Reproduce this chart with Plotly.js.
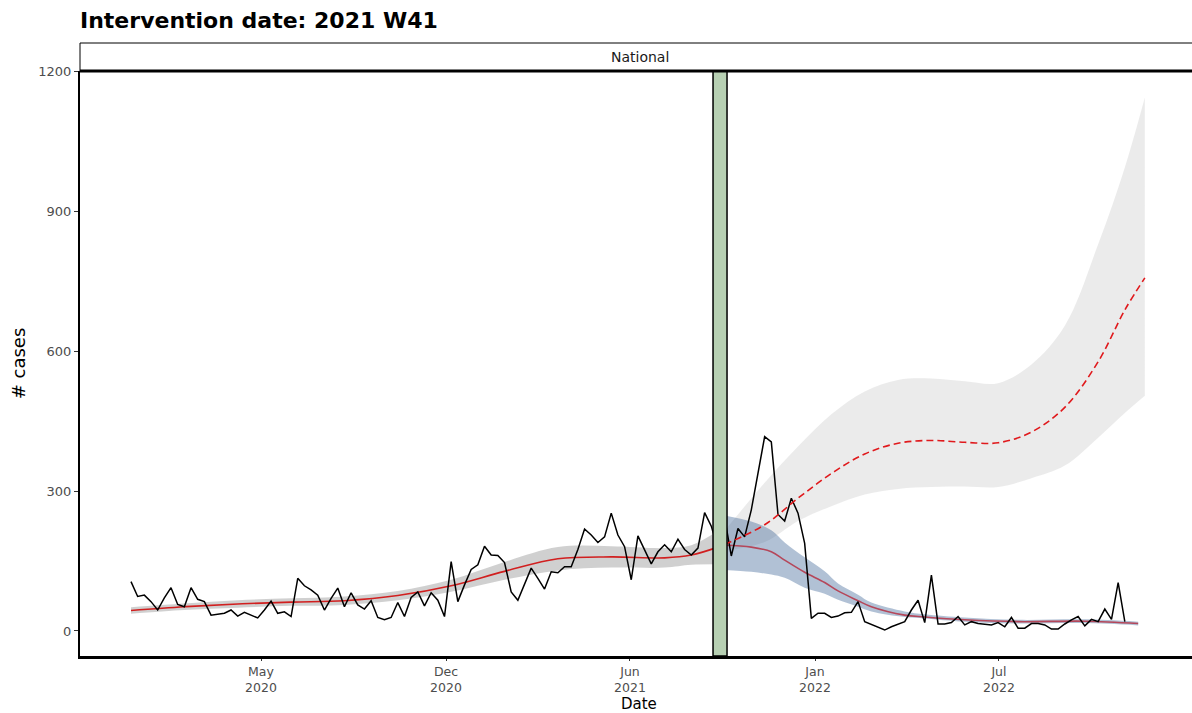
<!DOCTYPE html>
<html>
<head>
<meta charset="utf-8">
<script src="https://cdn.plot.ly/plotly-3.0.1.min.js"></script>
<style>html,body{margin:0;padding:0;background:#fff;}#chart{width:1192px;height:713px;}</style>
</head>
<body>
<div id="chart"></div>
<script>
// Observed weekly cases (week index 0 = first week shown)
const cases = [106,74,77,63,45,71,93,57,52,93,68,63,34,36,38,45,32,40,34,28,
  45,64,38,41,31,113,97,88,77,45,70,92,52,82,56,47,65,29,24,29,
  61,31,72,84,54,82,66,31,149,63,99,132,142,182,163,162,147,84,66,99,
  135,113,90,127,125,138,138,175,219,206,190,202,253,206,181,110,204,174,144,170,
  185,170,197,175,163,178,254,225,175,243,
  161,220,202,260,342,417,406,250,236,285,253,188,27,38,38,29,32,39,40,63,
  20,14,9,2,9,14,20,45,66,18,120,15,15,18,31,13,20,16,14,13,
  18,9,29,6,6,16,16,13,4,4,15,24,31,11,25,20,47,25,104,20];

// Pre-intervention model fit and ribbon
const preWeeks = [0, 8, 16, 24, 32, 40, 48, 56, 64, 72, 80, 84, 88];
const preFit   = [44, 52, 58, 62, 65, 76, 97, 128, 155, 159, 157, 163, 180];
const preLo    = [37, 45, 50, 54, 56, 66, 84, 110, 130, 136, 136, 142, 143];
const preHi    = [51, 59, 66, 70, 74, 86, 110, 148, 180, 182, 178, 184, 215];

// Post-intervention model fit and ribbon
const postWeeks = [89, 93, 96, 98, 101, 104, 106, 109, 111, 116, 119, 125, 133, 143, 151];
const postFit   = [184, 180, 170, 152, 126, 104, 86, 65, 52, 34, 30, 24, 20, 21, 16];
const postLo    = [131, 127, 121, 114, 93, 80, 67, 52, 42, 30, 27, 20, 16, 17, 12];
const postHi    = [248, 235, 216, 190, 158, 128, 102, 78, 61, 42, 36, 29, 24, 25, 20];

// Counterfactual prediction and ribbon
const predWeeks = [89, 95, 100, 105, 110, 115, 120, 125, 130, 135, 140, 145, 149, 152];
const predFit   = [186, 228, 285, 338, 380, 403, 409, 405, 404, 427, 480, 578, 689, 758];
const predLo    = [172, 191, 236, 268, 293, 305, 309, 310, 309, 328, 355, 415, 468, 505];
const predHi    = [215, 318, 396, 465, 514, 539, 542, 536, 532, 572, 655, 830, 995, 1145];

// Intervention window (week index) and axis ticks
const bandWeeks = [87.26, 89.36];
const tickWeeks = [19.49, 47.23, 74.81, 102.55, 130.13];
const tickLabels = ['May<br>2020', 'Dec<br>2020', 'Jun<br>2021', 'Jan<br>2022', 'Jul<br>2022'];
const yTicks = [0, 300, 600, 900, 1200];

const weeks = cases.map((_, i) => i);
const F = 'DejaVu Sans';

const traces = [
  {x: preWeeks, y: preLo, mode: 'lines', line: {width: 0, shape: 'spline'}, hoverinfo: 'skip'},
  {x: preWeeks, y: preHi, mode: 'lines', line: {width: 0, shape: 'spline'}, fill: 'tonexty', fillcolor: 'rgba(150,150,150,0.45)', hoverinfo: 'skip'},
  {x: predWeeks, y: predLo, mode: 'lines', line: {width: 0, shape: 'spline'}, hoverinfo: 'skip'},
  {x: predWeeks, y: predHi, mode: 'lines', line: {width: 0, shape: 'spline'}, fill: 'tonexty', fillcolor: 'rgba(190,190,190,0.3)', hoverinfo: 'skip'},
  {x: postWeeks, y: postLo, mode: 'lines', line: {width: 0, shape: 'spline'}, hoverinfo: 'skip'},
  {x: postWeeks, y: postHi, mode: 'lines', line: {width: 0, shape: 'spline'}, fill: 'tonexty', fillcolor: 'rgba(60,100,150,0.4)', hoverinfo: 'skip'},
  {x: preWeeks, y: preFit, mode: 'lines', line: {color: '#d11f1f', width: 1.6, shape: 'spline'}},
  {x: postWeeks, y: postFit, mode: 'lines', line: {color: '#b5475a', width: 1.6, shape: 'spline'}},
  {x: weeks, y: cases, mode: 'lines', line: {color: '#000000', width: 1.5}},
  {x: predWeeks, y: predFit, mode: 'lines', line: {color: '#e0191c', width: 1.6, dash: '7px,4px', shape: 'spline'}}
];

const layout = {
  width: 1192, height: 713,
  margin: {l: 80, r: 0, t: 71, b: 57},
  paper_bgcolor: '#ffffff', plot_bgcolor: '#ffffff',
  showlegend: false,
  font: {family: F, color: '#000'},
  title: {text: '<b>Intervention date: 2021 W41</b>', font: {family: F, size: 22, color: '#000'},
          xref: 'container', x: 80/1192, xanchor: 'left', yref: 'container', y: 1 - 20/713, yanchor: 'middle'},
  xaxis: {
    range: [-7.646, 159.07], showgrid: false, zeroline: false,
    showline: true, linecolor: '#000', linewidth: 2.5,
    tickmode: 'array', tickvals: tickWeeks, ticktext: tickLabels,
    ticks: 'outside', ticklen: 2, tickcolor: '#333', tickwidth: 1,
    tickfont: {family: F, size: 12.5, color: '#4d4d4d'},
    automargin: false
  },
  yaxis: {
    range: [-53.7, 1202], showgrid: false, zeroline: false,
    showline: true, linecolor: '#000', linewidth: 2,
    tickmode: 'array', tickvals: yTicks,
    ticks: 'outside', ticklen: 4, tickcolor: '#333', tickwidth: 1,
    tickfont: {family: F, size: 13, color: '#4d4d4d'},
    title: {text: '# cases', font: {family: F, size: 18, color: '#000'}, standoff: 8},
    automargin: false
  },
  shapes: [
    {type: 'rect', xref: 'x', yref: 'paper', x0: bandWeeks[0], x1: bandWeeks[1], y0: 0, y1: 1,
     fillcolor: '#b7d0b3', line: {color: '#000', width: 1.5}, layer: 'above'},
    {type: 'rect', xref: 'paper', yref: 'paper', x0: 0, x1: 1.01, y0: 1, y1: 1 + 28/585,
     fillcolor: '#ffffff', line: {color: '#000', width: 1}, layer: 'above'},
    {type: 'line', xref: 'paper', yref: 'paper', x0: 0, x1: 1.01, y0: 1, y1: 1,
     line: {color: '#000', width: 3}, layer: 'above'}
  ],
  annotations: [
    {text: 'National', xref: 'paper', yref: 'paper', x: (640 - 80) / 1112, y: 1 + 14/585,
     xanchor: 'center', yanchor: 'middle', showarrow: false, font: {family: F, size: 14, color: '#1a1a1a'}},
    {text: 'Date', xref: 'paper', yref: 'paper', x: (639 - 80) / 1112, y: -(703.5 - 656) / 585,
     xanchor: 'center', yanchor: 'middle', showarrow: false, font: {family: F, size: 15, color: '#000'}}
  ]
};

Plotly.newPlot('chart', traces, layout, {staticPlot: true, displayModeBar: false});
</script>
</body>
</html>
